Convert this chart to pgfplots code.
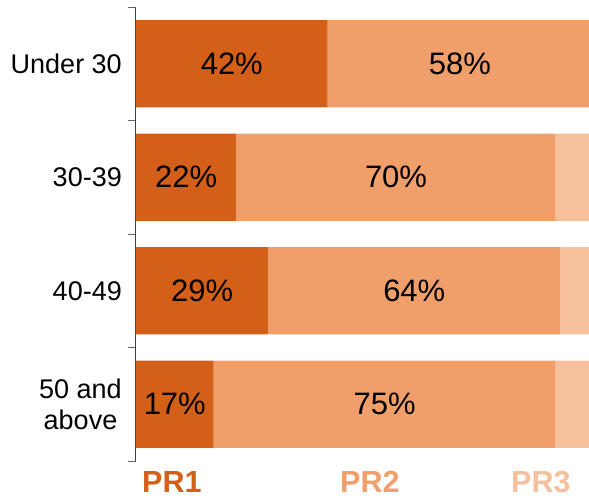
\documentclass[border=0pt]{standalone}
\usepackage{pgfplots}
\pgfplotsset{compat=1.18}
\usepackage{fontspec}
\setmainfont{Liberation Sans}
\definecolor{prone}{HTML}{D45F19}
\definecolor{prtwo}{HTML}{F09F6B}
\definecolor{prthree}{HTML}{F6C09D}
\begin{document}
\begin{tikzpicture}
\path[use as bounding box] (-136pt,-38pt) rectangle (453pt,461pt);
\pgfplotsset{
  base/.style={
    at={(0,0)}, anchor=south west,
    scale only axis, width=453pt, height=454pt,
    xmin=0, xmax=99.3, ymin=-0.5, ymax=3.5, y dir=reverse,
  }
}
% bars
\begin{axis}[base,
  xbar stacked, bar width=0.77,
  axis x line=none, axis y line*=left,
  axis line style={-, black!75, line width=1pt},
  ytick={0,1,2,3},
  yticklabels={Under 30, 30-39, 40-49, {50 and\\above}},
  major tick length=0pt,
  minor ytick={-0.5,0.5,1.5,2.5,3.5},
  minor tick length=8pt,
  tick align=outside,
  minor tick style={black!60, line width=1pt},
  yticklabel style={font=\fontsize{27}{31}\selectfont, align=center, inner sep=0pt, xshift=-14pt},
]
\addplot[fill=prone, draw=none] coordinates {(42,0) (22,1) (29,2) (17,3)};
\addplot[fill=prtwo, draw=none] coordinates {(58,0) (70,1) (64,2) (75,3)};
\addplot[fill=prthree, draw=none] coordinates {(0,0) (8,1) (7,2) (8,3)};
\end{axis}
% value labels
\begin{axis}[base, hide axis]
\addplot[draw=none, nodes near coords, point meta=explicit symbolic,
  every node near coord/.append style={anchor=center, inner sep=0pt, text=black, font=\fontsize{31}{36}\selectfont}]
coordinates {(21,0) [42\%] (71,0) [58\%]
  (11,1) [22\%] (57,1) [70\%]
  (14.5,2) [29\%] (61,2) [64\%]
  (8.5,3) [17\%] (54.5,3) [75\%]};
\end{axis}
% legend
\node[anchor=base west, inner sep=0pt, text=prone, font=\bfseries\fontsize{30.5}{34}\selectfont] at (6pt,-31pt) {PR1};
\node[anchor=base west, inner sep=0pt, text=prtwo, font=\bfseries\fontsize{30.5}{34}\selectfont] at (204pt,-31pt) {PR2};
\node[anchor=base west, inner sep=0pt, text=prthree, font=\bfseries\fontsize{30.5}{34}\selectfont] at (375pt,-31pt) {PR3};
\end{tikzpicture}
\end{document}
